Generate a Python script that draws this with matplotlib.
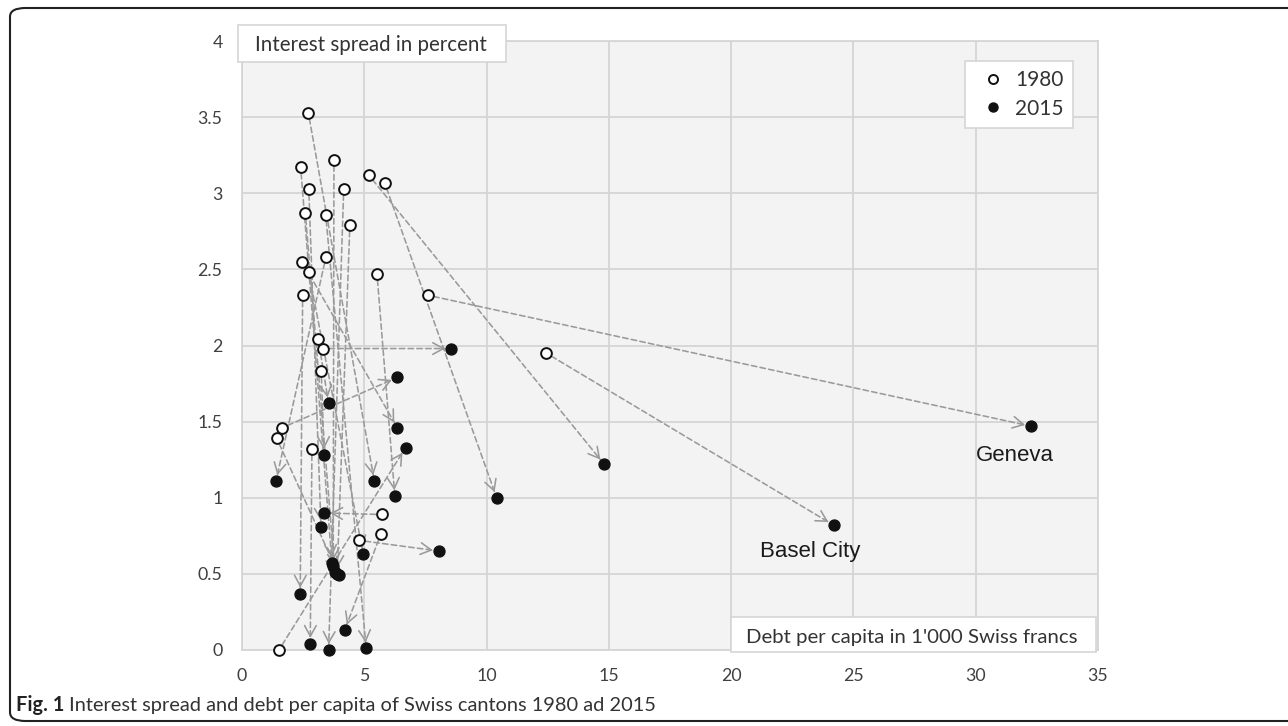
import matplotlib
matplotlib.use('Agg')
import matplotlib.pyplot as plt
from matplotlib.patches import Rectangle, FancyBboxPatch
from matplotlib.lines import Line2D
import numpy as np

# debt per capita (1'000 CHF) and interest spread (%) per canton, 1980 -> 2015
debt_1980 = [2.71, 2.40, 3.76, 2.73, 4.16, 2.59, 3.42, 4.41, 5.18, 5.83,
             2.46, 3.43, 2.73, 5.52, 2.48, 7.60, 12.44, 3.12, 3.31, 3.24,
             1.65, 1.42, 2.86, 5.71, 5.67, 4.79, 1.51]
spread_1980 = [3.53, 3.17, 3.22, 3.03, 3.03, 2.87, 2.86, 2.79, 3.12, 3.07,
               2.55, 2.58, 2.48, 2.47, 2.33, 2.33, 1.95, 2.04, 1.98, 1.83,
               1.46, 1.39, 1.32, 0.89, 0.76, 0.72, 0.00]
debt_2015 = [5.41, 3.68, 3.73, 3.23, 3.54, 3.80, 5.08, 3.89, 14.81, 10.41,
             6.35, 1.39, 4.96, 6.25, 2.38, 32.26, 24.19, 3.54, 8.55, 3.36,
             6.35, 3.97, 2.79, 3.36, 4.20, 8.05, 6.69]
spread_2015 = [1.11, 0.57, 0.55, 0.81, 0.00, 0.51, 0.01, 0.50, 1.22, 1.00,
               1.46, 1.11, 0.63, 1.01, 0.37, 1.47, 0.82, 1.62, 1.98, 1.28,
               1.79, 0.49, 0.04, 0.90, 0.13, 0.65, 1.33]
labels = {15: 'Geneva', 16: 'Basel City'}
label_offset = {15: (-16, -29), 16: (-23, -26)}

W, H = 1288, 726
fig = plt.figure(figsize=(W / 100, H / 100), dpi=100)


def px(x, y):
    return x / W, 1 - y / H


# outer rounded frame
fig.add_artist(FancyBboxPatch(px(10, 721), 1400 / W, 713 / H,
                              boxstyle='round,pad=0,rounding_size=0.012',
                              transform=fig.transFigure, fc='none', ec='#222222', lw=1.5))

ax = fig.add_axes([242 / W, 1 - 650 / H, 856 / W, 609 / H])
ax.set_facecolor('#f3f3f3')
ax.set_xlim(0, 35)
ax.set_ylim(0, 4)
ax.set_xticks(np.arange(0, 36, 5))
ax.set_yticks(np.arange(0, 4.01, 0.5))
ax.set_yticklabels(['%g' % v for v in np.arange(0, 4.01, 0.5)])
ax.grid(color='#d5d5d5', lw=1.3)
ax.set_axisbelow(True)
for s in ax.spines.values():
    s.set_color('#d5d5d5')
    s.set_linewidth(1.3)
ax.tick_params(length=0, labelsize=12.8, labelcolor='#404040')
ax.tick_params(axis='x', pad=13)
ax.tick_params(axis='y', pad=14)
for t in ax.get_xticklabels() + ax.get_yticklabels():
    t.set_family('Lato')

# dashed arrows from 1980 to 2015
for x0, y0, x1, y1 in zip(debt_1980, spread_1980, debt_2015, spread_2015):
    d0, d1 = ax.transData.transform([[x0, y0], [x1, y1]])
    u = (d1 - d0) / np.hypot(*(d1 - d0))
    p0 = d0 + u * 6
    p1 = d1 - u * 6
    ax.annotate('', xy=p1, xytext=p0, xycoords='figure pixels',
                arrowprops=dict(arrowstyle='-', color='#9a9a9a', lw=1.15,
                                linestyle=(0, (3.5, 2)), shrinkA=0, shrinkB=0))
    ax.annotate('', xy=p1, xytext=p1 - u * 3, xycoords='figure pixels',
                arrowprops=dict(arrowstyle='->,head_length=0.55,head_width=0.3',
                                mutation_scale=14, color='#9a9a9a', lw=1.15,
                                shrinkA=0, shrinkB=0))

ax.scatter(debt_2015, spread_2015, s=62, c='#111111', zorder=4, clip_on=False)
ax.scatter(debt_1980, spread_1980, s=60, facecolors='white', edgecolors='#111111',
           linewidths=1.4, zorder=5, clip_on=False)

for i, name in labels.items():
    ax.annotate(name, (debt_2015[i], spread_2015[i]), xytext=label_offset[i],
                textcoords='offset pixels', ha='center', va='center',
                fontsize=16, family='Liberation Sans', color='#1a1a1a')

# axis title boxes
fig.add_artist(Rectangle(px(238, 62), 268 / W, 37 / H, transform=fig.transFigure,
                         fc='white', ec='#d5d5d5', lw=1.2, zorder=10))
fig.text(*px(371, 45), 'Interest spread in percent', ha='center', va='center',
         fontsize=14.8, family='Lato', color='#333333', zorder=11)
fig.add_artist(Rectangle(px(731, 652), 365 / W, 35 / H, transform=fig.transFigure,
                         fc='white', ec='#d5d5d5', lw=1.2, zorder=10))
fig.text(*px(912, 637), "Debt per capita in 1'000 Swiss francs", ha='center', va='center',
         fontsize=14.7, family='Lato', color='#333333', zorder=11)

# legend
handles = [Line2D([], [], ls='none', marker='o', ms=6.5, mfc='white', mec='#111111', mew=1.4),
           Line2D([], [], ls='none', marker='o', ms=6.5, mfc='#111111', mec='#111111')]
leg = fig.legend(handles, ['1980', '2015'], loc='upper right',
                 bbox_to_anchor=px(1073, 61), bbox_transform=fig.transFigure,
                 fancybox=False, framealpha=1, edgecolor='#d5d5d5',
                 prop={'family': 'Lato', 'size': 15}, handletextpad=0.15,
                 handlelength=1.8, labelspacing=0.4, borderpad=0.45,
                 borderaxespad=0)
leg.get_frame().set_linewidth(1.2)
for t in leg.get_texts():
    t.set_color('#333333')

# caption
r = fig.canvas.get_renderer()
c1 = fig.text(*px(16, 705), 'Fig. 1', ha='left', va='center', fontsize=14.4,
              family='Lato', weight='bold', color='#222222')
bb = c1.get_window_extent(r)
fig.text((bb.x1 + 5) / W, 1 - 705 / H,
         'Interest spread and debt per capita of Swiss cantons 1980 ad 2015',
         ha='left', va='center', fontsize=14.4, family='Lato', color='#333333')

fig.savefig('out.png', dpi=100)
